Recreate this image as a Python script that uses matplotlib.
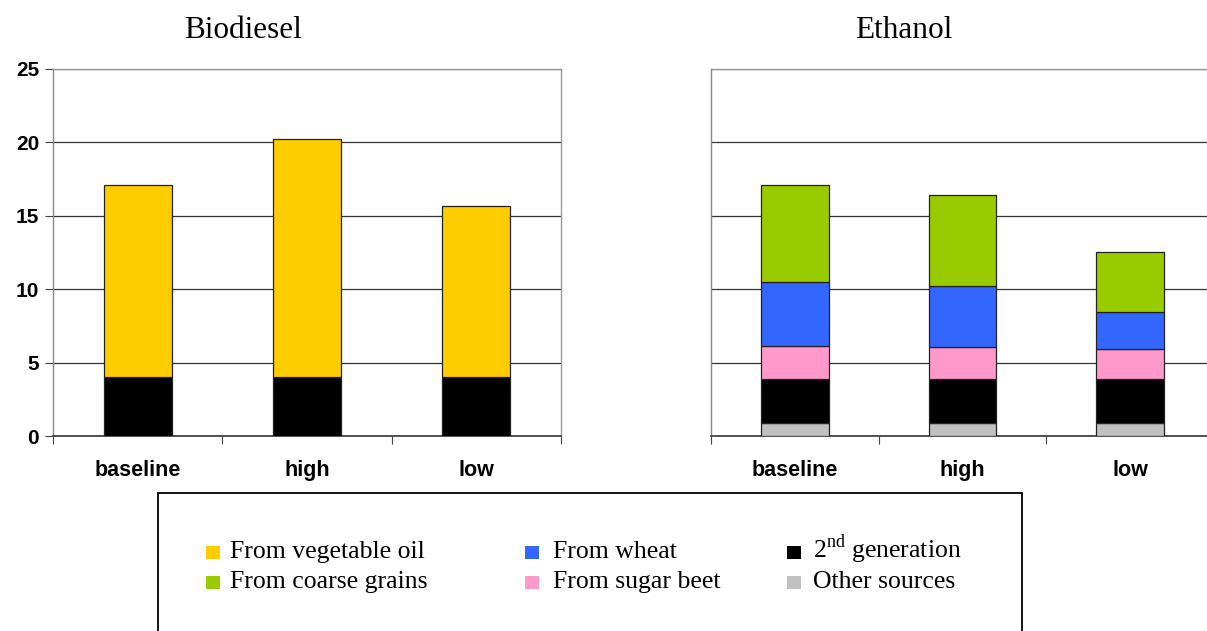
import matplotlib
matplotlib.use("Agg")
import matplotlib.pyplot as plt
import numpy as np
from matplotlib.patches import Rectangle

scenarios = ["baseline", "high", "low"]

# Biodiesel (bottom to top)
bio_2nd = [4.0, 4.0, 4.0]
bio_vegoil = [13.1, 16.25, 11.7]

# Ethanol (bottom to top)
eth_other = [0.9, 0.9, 0.9]
eth_2nd = [2.98, 2.98, 2.98]
eth_sugar = [2.25, 2.16, 2.02]
eth_wheat = [4.34, 4.2, 2.53]
eth_coarse = [6.65, 6.2, 4.13]

yticks = [0, 5, 10, 15, 20, 25]

colors = {
    "veg": "#FFCC00",
    "coarse": "#99CC00",
    "wheat": "#3366FF",
    "sugar": "#FF99CC",
    "2nd": "#000000",
    "other": "#C0C0C0",
}

plt.rcParams["mathtext.fontset"] = "custom"
plt.rcParams["mathtext.rm"] = "Liberation Serif"

W, H = 1207, 631
fig = plt.figure(figsize=(12.07, 6.31), dpi=100)
ax1 = fig.add_axes([53/W, 1-436/H, (561-53)/W, (436-69)/H])
ax2 = fig.add_axes([711/W, 1-436/H, (1214-711)/W, (436-69)/H])

x = np.arange(len(scenarios))
ec = dict(edgecolor="#222222", linewidth=0.9)

ax1.bar(x, bio_2nd, 0.40, color=colors["2nd"], **ec, zorder=3)
ax1.bar(x, bio_vegoil, 0.40, bottom=bio_2nd, color=colors["veg"], **ec, zorder=3)

bottom = np.zeros(3)
for vals, key in [(eth_other, "other"), (eth_2nd, "2nd"), (eth_sugar, "sugar"),
                  (eth_wheat, "wheat"), (eth_coarse, "coarse")]:
    ax2.bar(x, vals, 0.405, bottom=bottom, color=colors[key], **ec, zorder=3)
    bottom += np.array(vals)

for ax in (ax1, ax2):
    ax.set_xlim(-0.5, 2.5)
    ax.set_ylim(0, 25)
    ax.set_yticks(yticks)
    ax.yaxis.grid(True, color="#333333", linewidth=0.9, zorder=0)
    ax.set_axisbelow(True)
    for s in ("top", "right"):
        ax.spines[s].set_color("#999999")
        ax.spines[s].set_linewidth(1.0)
    ax.spines["left"].set_color("#888888")
    ax.spines["left"].set_linewidth(1.0)
    ax.spines["bottom"].set_color("#444444")
    ax.spines["bottom"].set_linewidth(1.3)
    ax.set_xticks([-0.5, 0.5, 1.5, 2.5])
    ax.set_xticklabels([])
    ax.set_xticks(x, minor=True)
    ax.set_xticklabels(scenarios, minor=True, fontfamily="Liberation Sans",
                       fontweight="bold", fontsize=15.5)
    ax.tick_params(axis="x", which="major", direction="out", length=6, color="#444444")
    ax.tick_params(axis="x", which="minor", length=0, pad=17)

ax1.tick_params(axis="y", direction="out", length=6, color="#444444", pad=4)
ax1.set_yticklabels([str(t) for t in yticks], fontfamily="Liberation Sans",
                    fontweight="bold", fontsize=15)
ax2.tick_params(axis="y", length=0)
ax2.set_yticklabels([])

fig.text(243/W, 1-37.7/H, "Biodiesel", ha="center", va="baseline",
         fontfamily="Liberation Serif", fontsize=22.5)
fig.text(904/W, 1-37.7/H, "Ethanol", ha="center", va="baseline",
         fontfamily="Liberation Serif", fontsize=22.5)

# legend box
fig.patches.append(Rectangle((158/W, -0.05), (1022-158)/W, 0.05 + 1-493/H,
                             transform=fig.transFigure, fill=False,
                             edgecolor="black", linewidth=1.3))

legend_items = [
    ("veg", "From vegetable oil", 206, 230, 0),
    ("coarse", "From coarse grains", 206, 230, 1),
    ("wheat", "From wheat", 525, 553, 0),
    ("sugar", "From sugar beet", 525, 553, 1),
    ("2nd", "2$^{\\mathrm{nd}}$ generation", 787, 813, 0),
    ("other", "Other sources", 787, 813, 1),
]
sq = 13.5
for key, lab, mx, tx, row in legend_items:
    base = 558 + 30 * row
    cy = base - 5.5
    fig.patches.append(Rectangle((mx/W, 1-(cy+sq/2)/H), sq/W, sq/H,
                                 transform=fig.transFigure, facecolor=colors[key],
                                 edgecolor="none"))
    fig.text(tx/W, 1-base/H, lab, ha="left", va="baseline",
             fontfamily="Liberation Serif", fontsize=18.5)

fig.savefig("out.png", dpi=100)
